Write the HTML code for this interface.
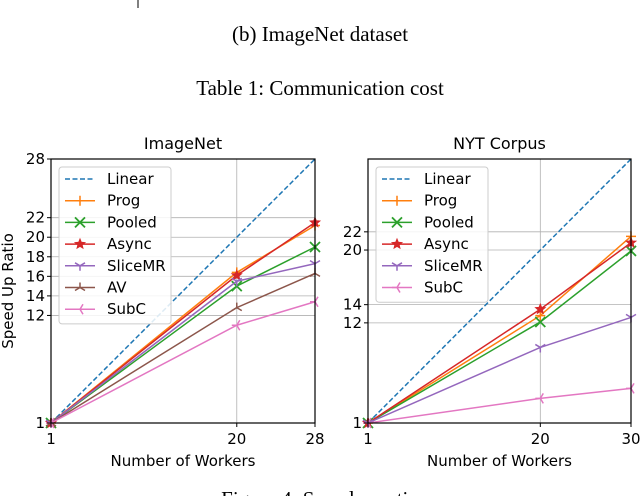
<!DOCTYPE html>
<html><head><meta charset="utf-8"><style>
body{margin:0;background:#fff;width:640px;height:496px;overflow:hidden}
svg{display:block}
text{font-family:"DejaVu Sans","Liberation Sans",sans-serif;fill:#000}
.serif{font-family:"Liberation Serif",serif}
</style></head><body>
<svg id="s" width="640" height="496">
<line x1="138" y1="0" x2="138" y2="8" stroke="#000"/>
<text class="serif" x="320" y="41" font-size="21" text-anchor="middle">(b) ImageNet dataset</text>
<text class="serif" x="320" y="95" font-size="21" text-anchor="middle">Table 1: Communication cost</text>
<text class="serif" x="320" y="506" font-size="21" text-anchor="middle">Figure 4: Speedup ratio</text>
</svg>
<script>
const xs = [1, 20, 28];
const xs2 = [1, 20, 30];
const seriesNames1 = ["Prog","Pooled","Async","SliceMR","AV","SubC"];
const prog1 = [1, 16.4, 21.2];
const pooled1 = [1, 15.0, 19.0];
const async1 = [1, 16.1, 21.5];
const slice1 = [1, 15.5, 17.3];
const av1 = [1, 12.8, 16.3];
const subc1 = [1, 11.0, 13.4];
const seriesNames2 = ["Prog","Pooled","Async","SliceMR","SubC"];
const prog2 = [1, 12.8, 21.5];
const pooled2 = [1, 12.1, 19.9];
const async2 = [1, 13.5, 20.8];
const slice2 = [1, 9.3, 12.6];
const subc2 = [1, 3.7, 4.8];
const yTicks1 = [1, 12, 14, 16, 18, 20, 22, 28];
const yTicks2 = [1, 12, 14, 20, 22];

const NS="http://www.w3.org/2000/svg";
const svg=document.getElementById('s');
const colors={Linear:"#1f77b4",Prog:"#ff7f0e",Pooled:"#2ca02c",Async:"#d62728",SliceMR:"#9467bd",AV:"#8c564b",SubC:"#e377c2"};
function el(t,a,p){const e=document.createElementNS(NS,t);for(const k in a)e.setAttribute(k,a[k]);(p||svg).appendChild(e);return e;}
function marker(g,name,x,y,c){
  const s=5;
  if(name==="Prog"){el('path',{d:`M${x-s},${y}H${x+s}M${x},${y-s}V${y+s}`,stroke:c,'stroke-width':1.5},g);}
  else if(name==="Pooled"){el('path',{d:`M${x-s},${y-s}L${x+s},${y+s}M${x-s},${y+s}L${x+s},${y-s}`,stroke:c,'stroke-width':1.8},g);}
  else if(name==="Async"){let p="";for(let i=0;i<10;i++){const r=i%2?2.2:5,a=-Math.PI/2+i*Math.PI/5;p+=(i?"L":"M")+(x+r*Math.cos(a)).toFixed(1)+","+(y+r*Math.sin(a)).toFixed(1);}el('path',{d:p+"Z",fill:c,stroke:c},g);}
  else if(name==="SliceMR"){el('path',{d:`M${x},${y}V${y+s}M${x},${y}L${x-s},${y-3}M${x},${y}L${x+s},${y-3}`,stroke:c,'stroke-width':1.5},g);}
  else if(name==="AV"){el('path',{d:`M${x},${y}V${y-s}M${x},${y}L${x-s},${y+3}M${x},${y}L${x+s},${y+3}`,stroke:c,'stroke-width':1.5},g);}
  else if(name==="SubC"){el('path',{d:`M${x},${y}H${x-s}M${x},${y}L${x+3},${y-s}M${x},${y}L${x+3},${y+s}`,stroke:c,'stroke-width':1.5},g);}
}
function chart(cfg){
  const g=el('g',{});
  
  
  const X=v=>cfg.l+(v-cfg.xmin)/(cfg.xmax-cfg.xmin)*(cfg.r-cfg.l);
  const Y=v=>cfg.b-(v-cfg.ymin)/(cfg.ymax-cfg.ymin)*(cfg.b-cfg.t);
  cfg.xt.forEach(v=>{const ln=el('line',{x1:X(v),x2:X(v),y1:cfg.t,y2:cfg.b,stroke:'#b0b0b0','stroke-width':0.8},g);
    });
  cfg.yt.forEach(v=>{const ln=el('line',{x1:cfg.l,x2:cfg.r,y1:Y(v),y2:Y(v),stroke:'#b0b0b0','stroke-width':0.8},g);
    });
  const lin=el('line',{x1:X(cfg.xmin),y1:Y(cfg.xmin),x2:X(cfg.xmax),y2:Y(cfg.xmax),stroke:colors.Linear,'stroke-width':1.5,'stroke-dasharray':'5,2.5'},g);
  
  cfg.names.forEach((n,i)=>{
    const vals=cfg.series[i];
    const pts=vals.map((v,j)=>X(cfg.xv[j])+","+Y(v)).join(" ");
    const pl=el('polyline',{points:pts,fill:'none',stroke:colors[n],'stroke-width':1.5},g);
    
    
    vals.forEach((v,j)=>marker(g,n,X(cfg.xv[j]),Y(v),colors[n]));
  });
  const fr=el('rect',{x:cfg.l,y:cfg.t,width:cfg.r-cfg.l,height:cfg.b-cfg.t,fill:'none',stroke:'#000','stroke-width':1.2},g);
  
  cfg.xt.forEach(v=>{el('line',{x1:X(v),x2:X(v),y1:cfg.b,y2:cfg.b+4,stroke:'#000'},g);
    const t=el('text',{x:X(v),y:cfg.b+21,'font-size':15,'text-anchor':'middle'},g);t.textContent=v;
    });
  cfg.yt.forEach(v=>{el('line',{x1:cfg.l-4,x2:cfg.l,y1:Y(v),y2:Y(v),stroke:'#000'},g);
    const t=el('text',{x:cfg.l-6,y:Y(v)+5,'font-size':15,'text-anchor':'end'},g);t.textContent=v;
    });
  const tt=el('text',{x:(cfg.l+cfg.r)/2,y:cfg.t-10,'font-size':16,'text-anchor':'middle'},g);tt.textContent=cfg.title;
  
  const xl=el('text',{x:(cfg.l+cfg.r)/2,y:cfg.b+43,'font-size':15,'text-anchor':'middle'},g);xl.textContent="Number of Workers";
  
  if(cfg.ylabel){const yl=el('text',{x:0,y:0,'font-size':15,'text-anchor':'middle',transform:`translate(13,${(cfg.t+cfg.b)/2}) rotate(-90)`},g);yl.textContent=cfg.ylabel;
    }
  const lg=el('g',{},g);
  
  const all=["Linear"].concat(cfg.names);
  el('rect',{x:cfg.l+8,y:cfg.t+8,width:112,height:all.length*21.7+5,fill:'#fff','fill-opacity':0.85,stroke:'#ccc',rx:3},lg);
  all.forEach((n,i)=>{
    const y=cfg.t+20+i*21.7, x0=cfg.l+14;
    const e=el('g',{},lg);
    
    
    if(n==="Linear") el('line',{x1:x0,x2:x0+30,y1:y,y2:y,stroke:colors[n],'stroke-width':1.5,'stroke-dasharray':'5,2.5'},e);
    else {el('line',{x1:x0,x2:x0+30,y1:y,y2:y,stroke:colors[n],'stroke-width':1.5},e);marker(e,n,x0+15,y,colors[n]);}
    const t=el('text',{x:x0+42,y:y+5,'font-size':15},e);t.textContent=n;
  });
}
chart({id:'imagenet-chart',title:'ImageNet',l:51,r:315,t:159,b:423,xmin:1,xmax:28,ymin:1,ymax:28,xt:xs,xv:xs,yt:yTicks1,
  names:seriesNames1,series:[prog1,pooled1,async1,slice1,av1,subc1],ylabel:'Speed Up Ratio'});
chart({id:'nyt-chart',title:'NYT Corpus',l:368,r:631,t:159,b:423,xmin:1,xmax:30,ymin:1,ymax:30,xt:xs2,xv:xs2,yt:yTicks2,
  names:seriesNames2,series:[prog2,pooled2,async2,slice2,subc2]});
</script>
</body></html>
